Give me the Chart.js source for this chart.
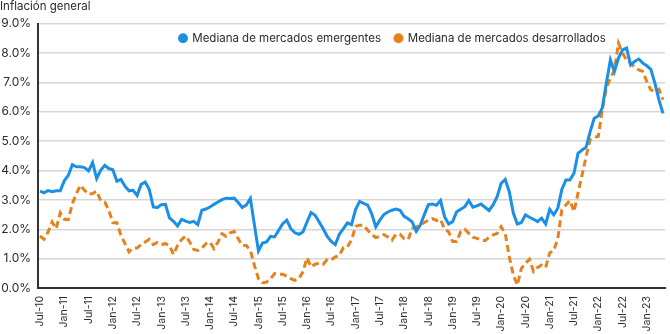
<!DOCTYPE html>
<html>
<head>
<meta charset="utf-8">
<script src="https://cdn.jsdelivr.net/npm/chart.js@4.4.1/dist/chart.umd.min.js"></script>
<style>
  html, body { margin: 0; padding: 0; background: #fff; }
  canvas { display: block; }
</style>
</head>
<body>
<canvas id="chart" width="670" height="334"></canvas>
<script>
// Monthly median headline inflation (%), Jul-10 .. May-23
const monthNames = ['Jan', 'Feb', 'Mar', 'Apr', 'May', 'Jun', 'Jul', 'Aug', 'Sep', 'Oct', 'Nov', 'Dec'];
const categories = [];
for (let y = 2010; y <= 2023; y++) {
  monthNames.forEach((m, k) => {
    if (y === 2010 && k < 6) return;
    if (y === 2023 && k > 4) return;
    categories.push(m + '-' + String(y).slice(2));
  });
}

// every 6th month gets a label on the x axis
const tickLabels = ['Jul-10', 'Jan-11', 'Jul-11', 'Jan-12', 'Jul-12', 'Jan-13', 'Jul-13', 'Jan-14',
  'Jul-14', 'Jan-15', 'Jul-15', 'Jan-16', 'Jul-16', 'Jan-17', 'Jul-17', 'Jan-18', 'Jul-18',
  'Jan-19', 'Jul-19', 'Jan-20', 'Jul-20', 'Jan-21', 'Jul-21', 'Jan-22', 'Jul-22', 'Jan-23'];

const emergentes = [
  3.30, 3.24, 3.32, 3.28, 3.31, 3.31, 3.65, 3.84, 4.20, 4.13, 4.13, 4.10,
  3.99, 4.27, 3.73, 4.01, 4.18, 4.07, 4.03, 3.64, 3.70, 3.47, 3.31, 3.33,
  3.15, 3.53, 3.61, 3.36, 2.76, 2.74, 2.84, 2.85, 2.39, 2.27, 2.11, 2.34,
  2.28, 2.23, 2.27, 2.16, 2.65, 2.69, 2.76, 2.85, 2.93, 3.01, 3.06, 3.05,
  3.06, 2.91, 2.74, 2.83, 3.05, 2.15, 1.26, 1.53, 1.57, 1.76, 1.74, 1.97,
  2.19, 2.31, 2.02, 1.88, 1.83, 1.91, 2.25, 2.57, 2.48, 2.25, 2.02, 1.76,
  1.59, 1.48, 1.83, 2.02, 2.22, 2.16, 2.67, 2.95, 2.88, 2.82, 2.53, 2.08,
  2.31, 2.50, 2.59, 2.65, 2.69, 2.65, 2.44, 2.36, 2.25, 1.93, 2.14, 2.50,
  2.84, 2.86, 2.82, 2.98, 2.43, 2.18, 2.26, 2.60, 2.68, 2.77, 2.98, 2.75,
  2.80, 2.86, 2.75, 2.64, 2.83, 3.11, 3.57, 3.70, 3.28, 2.55, 2.18, 2.23,
  2.49, 2.41, 2.34, 2.26, 2.38, 2.18, 2.68, 2.49, 2.72, 3.36, 3.68, 3.68,
  3.91, 4.59, 4.70, 4.80, 5.33, 5.78, 5.86, 6.13, 6.98, 7.77, 7.38, 7.83,
  8.11, 8.17, 7.60, 7.72, 7.80, 7.66, 7.57, 7.45, 6.98, 6.41, 5.95
];

const desarrollados = [
  1.77, 1.66, 1.91, 2.25, 2.02, 2.56, 2.34, 2.33, 2.88, 3.22, 3.50, 3.33,
  3.19, 3.22, 3.30, 2.97, 2.93, 2.65, 2.22, 2.22, 1.80, 1.51, 1.23, 1.36,
  1.36, 1.48, 1.57, 1.66, 1.48, 1.55, 1.48, 1.51, 1.45, 1.14, 1.45, 1.65,
  1.77, 1.57, 1.31, 1.28, 1.36, 1.51, 1.57, 1.34, 1.57, 1.85, 1.76, 1.88,
  1.92, 1.68, 1.45, 1.45, 1.28, 0.77, 0.32, 0.18, 0.20, 0.32, 0.49, 0.47,
  0.47, 0.40, 0.32, 0.26, 0.32, 0.55, 1.03, 0.72, 0.81, 0.85, 0.81, 0.97,
  0.97, 1.06, 1.11, 1.38, 1.40, 1.63, 2.10, 2.14, 2.14, 1.97, 1.82, 1.72,
  1.76, 1.82, 1.74, 1.63, 1.83, 1.83, 1.68, 1.65, 2.02, 2.08, 2.14, 2.23,
  2.31, 2.36, 2.30, 2.34, 2.00, 1.92, 1.58, 1.58, 1.92, 2.00, 1.86, 1.73,
  1.69, 1.64, 1.61, 1.73, 1.81, 1.86, 2.09, 1.86, 1.07, 0.44, 0.10, 0.67,
  0.84, 0.98, 0.56, 0.70, 0.78, 0.70, 1.20, 1.27, 1.69, 2.66, 2.83, 2.98,
  2.60, 3.23, 3.85, 4.48, 5.05, 5.14, 5.16, 6.07, 6.81, 7.15, 7.43, 8.34,
  8.00, 7.77, 7.66, 7.52, 7.43, 7.38, 7.03, 6.75, 6.69, 6.77, 6.41
];

const BLUE = '#1b8fe6';
const ORANGE = '#e5821f';
const TEXT = '#2b2b2b';
const FONT = 'Inter, "Liberation Sans", sans-serif';

// the legend sits inside the plot on one row, a bit right of centre
const legendPlace = {
  id: 'legendPlace',
  afterInit(chart) {
    chart.legend.isHorizontal = () => true;
  },
  afterLayout(chart) {
    const lg = chart.legend;
    const w = lg.right - lg.left;
    const h = lg.bottom - lg.top;
    lg.left = 165.5;
    lg.right = lg.left + w;
    lg.top = 18.5;
    lg.bottom = lg.top + h;
  }
};

const ctx = document.getElementById('chart').getContext('2d');
new Chart(ctx, {
  type: 'line',
  data: {
    labels: categories,
    datasets: [{
      label: 'Mediana de mercados emergentes',
      data: emergentes,
      borderColor: BLUE,
      backgroundColor: BLUE,
      borderWidth: 3,
      pointRadius: 0,
      tension: 0
    }, {
      label: 'Mediana de mercados desarrollados',
      data: desarrollados,
      borderColor: ORANGE,
      backgroundColor: ORANGE,
      borderWidth: 3,
      borderDash: [7, 4],
      pointRadius: 0,
      tension: 0
    }]
  },
  plugins: [legendPlace],
  options: {
    responsive: false,
    animation: false,
    layout: { padding: { left: 0, right: 5, top: 0, bottom: 0 } },
    plugins: {
      title: {
        display: true,
        text: 'Inflación general',
        align: 'start',
        color: TEXT,
        font: { family: FONT, size: 11.5, weight: 'normal' },
        padding: { top: 0, bottom: 10 }
      },
      legend: {
        position: 'chartArea',
        align: 'start',
        labels: {
          color: TEXT,
          font: { family: FONT, size: 11.5 },
          usePointStyle: true,
          pointStyle: 'circle',
          boxWidth: 7,
          boxHeight: 7,
          padding: 14,
          generateLabels: chart => Chart.defaults.plugins.legend.labels.generateLabels(chart)
            .map(l => ({ ...l, lineWidth: 0, lineDash: [], fillStyle: l.strokeStyle, pointStyle: 'circle' }))
        }
      },
      tooltip: { enabled: false }
    },
    scales: {
      x: {
        offset: true,
        afterFit: scale => {
          scale.height = 46;
          scale.paddingLeft = 0;
          scale.paddingRight = 0;
        },
        grid: { display: false, drawTicks: false },
        border: { display: true, color: '#333', width: 2 },
        ticks: {
          autoSkip: false,
          minRotation: 90,
          maxRotation: 90,
          padding: 8,
          color: TEXT,
          font: { family: FONT, size: 10.5 },
          callback: (v, i) => tickLabels.includes(categories[i]) ? categories[i] : ''
        }
      },
      y: {
        min: 0,
        max: 9,
        afterFit: scale => { scale.width = 38; },
        grid: {
          color: c => c.tick.value === 0 ? 'rgba(0,0,0,0)' : '#d6d6d6',
          lineWidth: 1.5,
          drawTicks: false
        },
        border: { display: true, color: '#333', width: 2 },
        ticks: {
          stepSize: 1,
          padding: 7,
          color: TEXT,
          font: { family: FONT, size: 12 },
          callback: v => v.toFixed(1) + '%'
        }
      }
    }
  }
});
</script>
</body>
</html>
